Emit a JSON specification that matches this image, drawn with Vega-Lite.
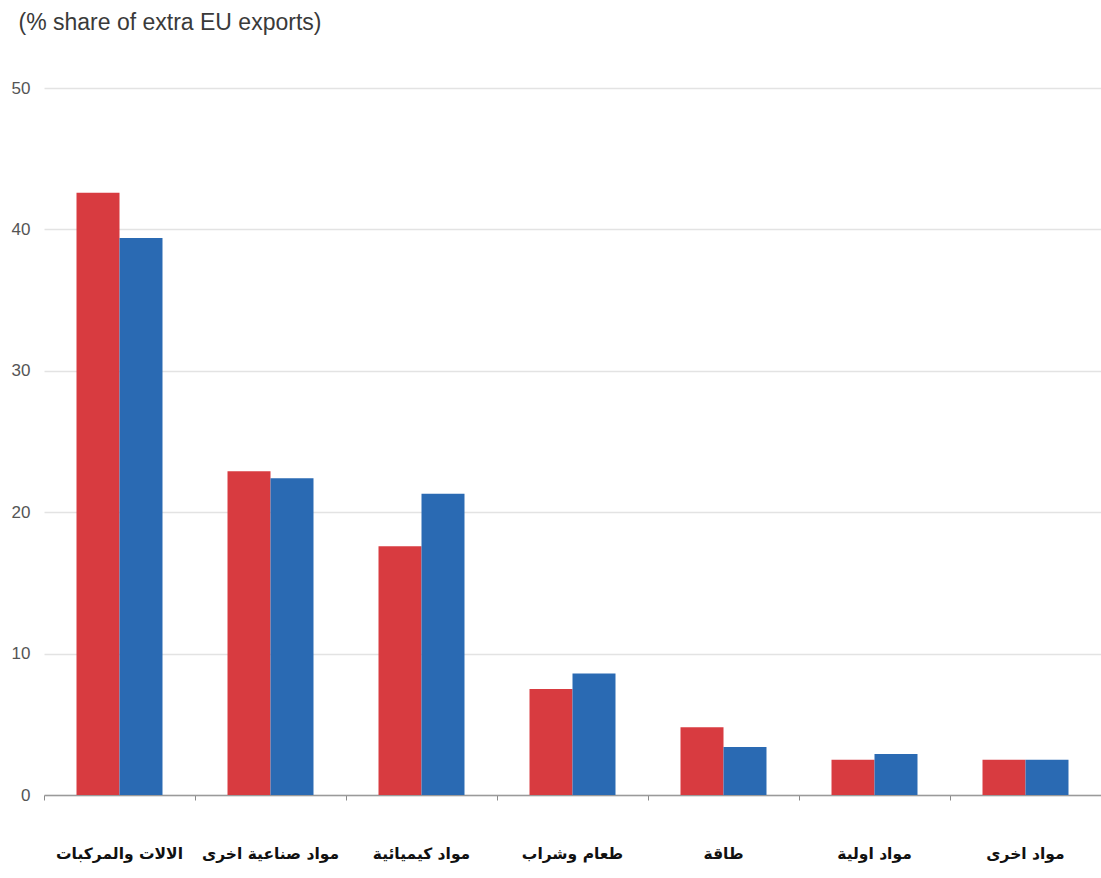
{
  "$schema": "https://vega.github.io/schema/vega-lite/v6.json",
  "width": 1057,
  "height": 707,
  "autosize": {"type": "none"},
  "padding": {"left": 44, "top": 88, "right": 0, "bottom": 83},
  "background": "white",
  "data": {
    "values": [
      {"category": "الالات والمركبات", "series": "series1", "value": 42.6},
      {"category": "الالات والمركبات", "series": "series2", "value": 39.4},
      {"category": "مواد صناعية اخرى", "series": "series1", "value": 22.9},
      {"category": "مواد صناعية اخرى", "series": "series2", "value": 22.4},
      {"category": "مواد كيميائية", "series": "series1", "value": 17.6},
      {"category": "مواد كيميائية", "series": "series2", "value": 21.3},
      {"category": "طعام وشراب", "series": "series1", "value": 7.5},
      {"category": "طعام وشراب", "series": "series2", "value": 8.6},
      {"category": "طاقة", "series": "series1", "value": 4.8},
      {"category": "طاقة", "series": "series2", "value": 3.4},
      {"category": "مواد اولية", "series": "series1", "value": 2.5},
      {"category": "مواد اولية", "series": "series2", "value": 2.9},
      {"category": "مواد اخرى", "series": "series1", "value": 2.5},
      {"category": "مواد اخرى", "series": "series2", "value": 2.5}
    ]
  },
  "mark": {"type": "bar"},
  "encoding": {
    "x": {
      "field": "category",
      "type": "nominal",
      "sort": null,
      "scale": {"paddingInner": 0, "paddingOuter": 0},
      "axis": {
        "title": null,
        "labelAngle": 0,
        "bandPosition": 0,
        "domainColor": "#9a9a9a",
        "domainWidth": 1.5,
        "tickColor": "#8a8a8a",
        "tickSize": 5,
        "labelPadding": 46,
        "labelFont": "DejaVu Sans",
        "labelFontWeight": "bold",
        "labelFontSize": 15.5,
        "labelColor": "#111111"
      }
    },
    "xOffset": {
      "field": "series",
      "type": "nominal",
      "scale": {"paddingInner": 0, "paddingOuter": 0.756}
    },
    "y": {
      "field": "value",
      "type": "quantitative",
      "scale": {"domain": [0, 50], "nice": false},
      "axis": {
        "values": [0, 10, 20, 30, 40, 50],
        "title": "(% share of extra EU exports)",
        "titleAngle": 0,
        "titleAlign": "left",
        "titleBaseline": "middle",
        "titleX": -26,
        "titleY": -66,
        "titleFont": "Liberation Sans",
        "titleFontSize": 23,
        "titleFontWeight": "normal",
        "titleColor": "#3a3a3a",
        "domain": false,
        "ticks": false,
        "gridColor": "#e3e3e3",
        "gridWidth": 1.5,
        "labelPadding": 14,
        "labelFont": "Liberation Sans",
        "labelFontSize": 17,
        "labelColor": "#555555"
      }
    },
    "color": {
      "field": "series",
      "type": "nominal",
      "scale": {"domain": ["series1", "series2"], "range": ["#d83b40", "#2a6ab3"]},
      "legend": null
    }
  },
  "config": {"view": {"stroke": null}}
}
